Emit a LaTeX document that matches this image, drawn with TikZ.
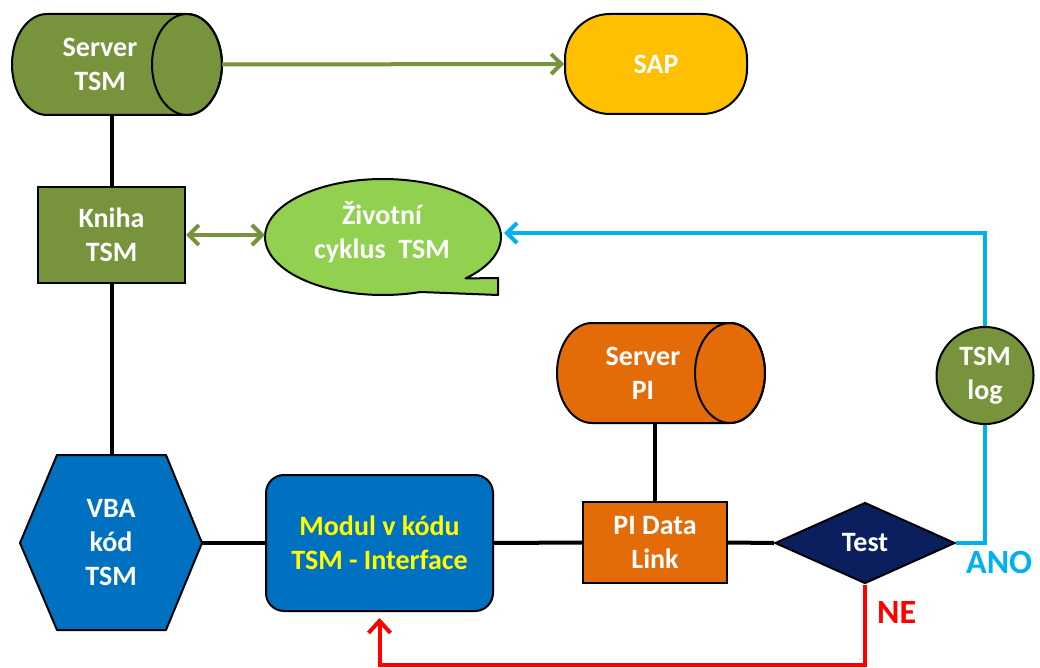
\documentclass[tikz,border=0pt]{standalone}
\usepackage{fontspec}
\setmainfont{Carlito}
\usetikzlibrary{shapes.geometric,arrows.meta}
\definecolor{olv}{HTML}{77933C}
\definecolor{lgr}{HTML}{92D050}
\definecolor{gld}{HTML}{FFC000}
\definecolor{org}{HTML}{E36C09}
\definecolor{blu}{HTML}{0070C0}
\definecolor{nvy}{HTML}{0B1F5E}
\definecolor{cyn}{HTML}{00B0F0}
\definecolor{rdd}{HTML}{FF0000}
\definecolor{ylw}{HTML}{FFFF00}
\newcommand\lbl{\fontsize{28}{34}\selectfont\bfseries}
% #1 left cap centre x, #2 right end centre x, #3 centre y, #4 x radius, #5 y radius, #6 fill
\newcommand\mycyl[6]{%
  \filldraw[fill=#6, draw=black, line width=2pt, line join=round]
    plot[domain=270:90, samples=40] ({#1+#4*cos(\x)},{#3+#5*sin(\x)})
    -- plot[domain=90:-90, samples=40] ({#2+#4*cos(\x)},{#3+#5*sin(\x)}) -- cycle;
  \draw[line width=2pt] (#2,#3) ellipse [x radius=#4pt, y radius=#5pt];}
\begin{document}
\begin{tikzpicture}[x=1pt,y=-1pt,
  shp/.style={draw=black, line width=2pt, inner sep=0pt},
  txt/.style={text=white, font=\lbl, align=center, inner sep=0pt},
  bl/.style={draw=black, line width=4pt},
  garrow/.style={draw=olv, line width=4pt, -{Straight Barb[length=10pt,width=20pt]}},
  gdarrow/.style={draw=olv, line width=4pt, {Straight Barb[length=10pt,width=20pt]}-{Straight Barb[length=10pt,width=20pt]}},
  cy/.style={draw=cyn, line width=4pt},
  rd/.style={draw=rdd, line width=4pt},
  frame/.style={minimum width=#1, inner sep=0pt}
]
\useasboundingbox (0,0) rectangle (1040,668);
\fill[white] (0,0) rectangle (1040,668);

% Server TSM
\mycyl{47}{187}{64.5}{35}{50.5}{olv}
\node[minimum width=210pt, minimum height=101pt, inner sep=0pt] (stsm) at (117,64.5) {};
\node[txt] (stsmT) at (100,64) {Server\\TSM};

% SAP
\node[shp, fill=gld, minimum width=182pt, minimum height=100pt, rounded corners=45pt] (sap) at (656,64) {};
\node[txt] (sapT) at (656,64) {SAP};

% Kniha
\node[shp, fill=olv, minimum width=147pt, minimum height=96pt, txt] (kniha) at (111.5,235) {Kniha\\TSM};

% bubble
\filldraw[fill=lgr, draw=black, line width=2pt, line join=round]
  plot[domain=71.5:405.6, samples=90, smooth] ({383+118*cos(\x)},{237+58*sin(\x)})
  -- (498,278) -- (498,295) -- cycle;
\node[ellipse, minimum width=236pt, minimum height=116pt, inner sep=0pt] (bubble) at (383,237) {};
\node[txt] (bubbleT) at (382,232) {Životní\\cyklus~~TSM};

% Server PI
\mycyl{592}{730}{373}{35}{50}{org}
\node[minimum width=208pt, minimum height=100pt, inner sep=0pt] (spi) at (661,373) {};
\node[txt] (spiT) at (643,373) {Server\\PI};

% PI Data Link
\node[shp, fill=org, minimum width=144pt, minimum height=81pt, txt] (pdl) at (655,542.5) {PI Data\\Link};

% Test
\node[shp, diamond, fill=nvy, minimum width=180pt, minimum height=81pt, aspect=2.2, txt] (test) at (865,543) {Test};

% TSM log
\node[shp, circle, fill=olv, minimum size=97pt, txt] (log) at (985,375.5) {TSM\\log};

% Modul
\node[shp, fill=blu, minimum width=227pt, minimum height=136pt, rounded corners=18pt, txt, text=ylw] (modul) at (379.5,543) {Modul v kódu\\TSM - Interface};

% VBA hexagon
\coordinate (vl) at (20,543);
\coordinate (vt) at (111,455);
\coordinate (vr) at (202,543);
\filldraw[fill=blu, draw=black, line width=2pt, line join=round]
  (vl) -- (57,455) -- (166,455) -- (vr) -- (166,630) -- (57,630) -- cycle;
\node[txt] (vba) at (111,543) {VBA\\kód\\TSM};

% connectors
\draw[garrow] (stsm.east) -- (sap.west);
\draw[bl] (kniha.north) -- (kniha.north |- stsm.south);
\draw[bl] (kniha.south) -- (kniha.south |- vt);
\draw[gdarrow] (kniha.east) -- (kniha.east -| bubble.west);
\draw[bl] (vr) -- (modul.west);
\draw[bl] (modul.east) -- (pdl.west);
\draw[bl] (pdl.north) -- (pdl.north |- spi.south);
\draw[bl] (pdl.east) -- (test.west);
\draw[cy] (test.east) -| (log.south);
\draw[cy, -{Straight Barb[length=10pt,width=20pt]}] (log.north) |- ([xshift=3pt,yshift=4pt]bubble.east);
\coordinate (rc) at (865,665);
\draw[rd, -{Straight Barb[length=12pt,width=22pt]}] (test.south) -- (rc) -| ([yshift=-6pt]modul.south);

% labels
\node[anchor=west, text=cyn, font=\fontsize{34}{40}\selectfont\bfseries, inner sep=0pt] (ano) at (966,562) {ANO};
\node[anchor=west, text=rdd, font=\fontsize{34}{40}\selectfont\bfseries, inner sep=0pt] (ne) at (877,612) {NE};
\end{tikzpicture}
\end{document}
